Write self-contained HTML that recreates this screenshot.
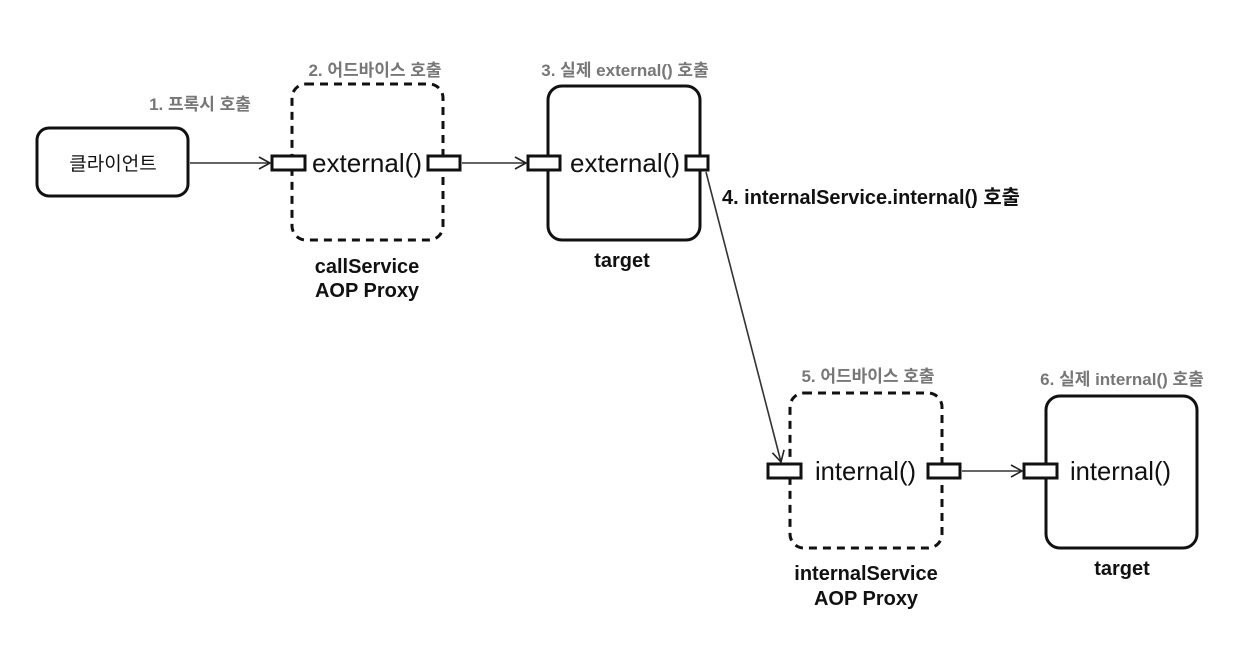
<!DOCTYPE html>
<html><head><meta charset="utf-8"><style>
html,body{margin:0;padding:0;background:#fff;}
svg{display:block;}
text{font-family:"Liberation Sans","Noto Sans CJK KR",sans-serif;}
.g{fill:#777;font-weight:bold;font-size:17px;text-anchor:middle;}
.b{fill:#111;font-weight:bold;font-size:20px;text-anchor:middle;}
.m{fill:#111;font-size:26px;}
</style></head><body>
<svg width="1260" height="670" viewBox="0 0 1260 670">
<defs><marker id="a" markerWidth="14" markerHeight="14" refX="12" refY="7" orient="auto" markerUnits="userSpaceOnUse"><path d="M1,1 L12,7 L1,13" fill="none" stroke="#222" stroke-width="1.6"/></marker></defs>
<g fill="none" stroke="#111" stroke-width="3">
<rect x="37" y="128" width="151" height="68" rx="12"/>
<rect x="292" y="84" width="151" height="156" rx="14" stroke-dasharray="8,6"/>
<rect x="548" y="86" width="152" height="154" rx="14"/>
<rect x="790" y="393" width="152" height="155" rx="14" stroke-dasharray="8,6"/>
<rect x="1046" y="396" width="151" height="152" rx="14"/>
</g>
<g fill="none" stroke="#333" stroke-width="1.6">
<line x1="190" y1="163" x2="270" y2="163" marker-end="url(#a)"/>
<line x1="462" y1="163" x2="526" y2="163" marker-end="url(#a)"/>
<line x1="706" y1="172" x2="781" y2="462" marker-end="url(#a)"/>
<line x1="962" y1="471" x2="1022" y2="471" marker-end="url(#a)"/>
</g>
<g fill="#fff" stroke="#111" stroke-width="3">
<rect x="272" y="156" width="33" height="14"/>
<rect x="428" y="156" width="32" height="14"/>
<rect x="528" y="156" width="32" height="14"/>
<rect x="686" y="156" width="22" height="14"/>
<rect x="768" y="464" width="33" height="14"/>
<rect x="928" y="464" width="32" height="14"/>
<rect x="1024" y="464" width="33" height="14"/>
</g>
<text x="113" y="170" style="fill:#111;font-size:19px;text-anchor:middle">클라이언트</text>
<text x="312" y="172" class="m" textLength="110" lengthAdjust="spacingAndGlyphs">external()</text>
<text x="570" y="172" class="m" textLength="110" lengthAdjust="spacingAndGlyphs">external()</text>
<text x="815" y="480" class="m" textLength="101" lengthAdjust="spacingAndGlyphs">internal()</text>
<text x="1070" y="480" class="m" textLength="101" lengthAdjust="spacingAndGlyphs">internal()</text>
<text x="200" y="110" class="g">1. 프록시 호출</text>
<text x="375" y="76" class="g">2. 어드바이스 호출</text>
<text x="625" y="76" class="g">3. 실제 external() 호출</text>
<text x="868" y="382" class="g">5. 어드바이스 호출</text>
<text x="1122" y="385" class="g">6. 실제 internal() 호출</text>
<text x="367" y="273" class="b">callService</text>
<text x="367" y="297" class="b">AOP Proxy</text>
<text x="622" y="267" class="b">target</text>
<text x="866" y="580" class="b">internalService</text>
<text x="866" y="605" class="b">AOP Proxy</text>
<text x="1122" y="575" class="b">target</text>
<text x="722" y="204" class="b" style="text-anchor:start" textLength="298" lengthAdjust="spacingAndGlyphs">4. internalService.internal() 호출</text>
</svg>
</body></html>
